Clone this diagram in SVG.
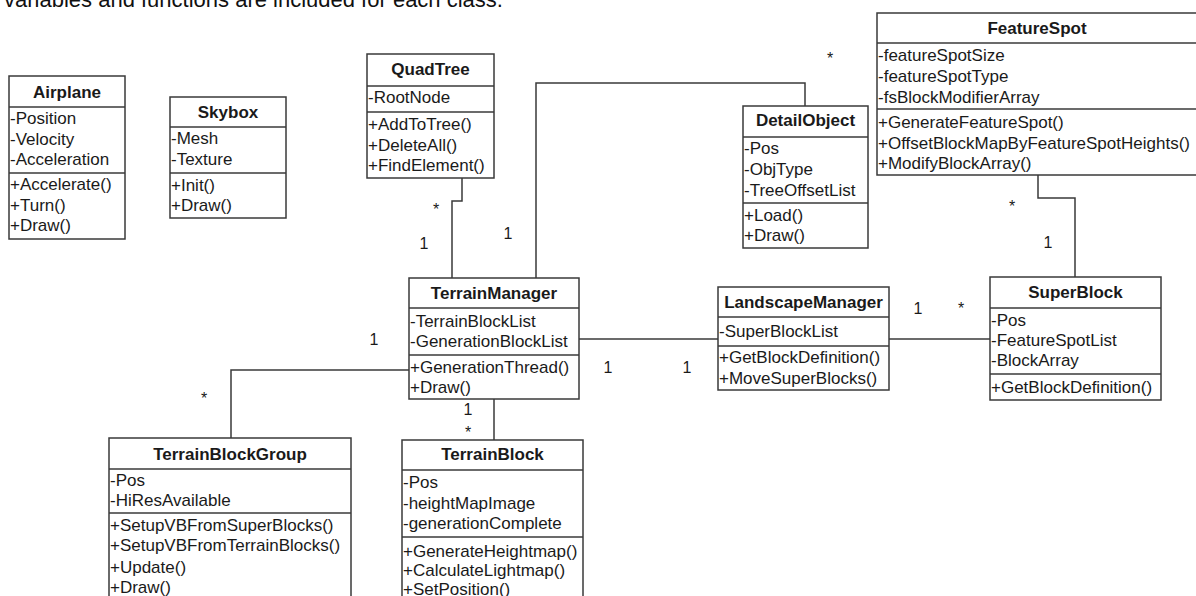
<svg xmlns="http://www.w3.org/2000/svg" width="1196" height="596" viewBox="0 0 1196 596">
<style>
.box{fill:#fff;stroke:#3a3a3a;stroke-width:1.5}
.div{stroke:#3a3a3a;stroke-width:1.5}
.t{font-family:"Liberation Sans",Arial,sans-serif;font-size:17px;fill:#1a1a1a}
.h{font-family:"Liberation Sans",Arial,sans-serif;font-size:17px;font-weight:bold;fill:#1a1a1a;text-anchor:middle}
.m{font-family:"Liberation Sans",Arial,sans-serif;font-size:16px;fill:#1a1a1a;text-anchor:middle}
.c{fill:none;stroke:#3a3a3a;stroke-width:1.5}
</style>
<rect width="1196" height="596" fill="#fff"/>
<text x="4" y="7" font-family="Liberation Sans, Arial, sans-serif" font-size="22" fill="#111">variables and functions are included for each class.</text>

<g id="connectors">
<path class="c" d="M462,178 V201 H452 V278"/>
<path class="c" d="M805,106 V83 H536 V278"/>
<path class="c" d="M1038,175 V198 H1075 V277"/>
<path class="c" d="M579,339 H718"/>
<path class="c" d="M889,339 H990"/>
<path class="c" d="M409,370 H231 V438"/>
<path class="c" d="M494,399 V440"/>
<text class="m" x="436" y="215">*</text>
<text class="m" x="424" y="249">1</text>
<text class="m" x="830" y="64">*</text>
<text class="m" x="508" y="239">1</text>
<text class="m" x="1012" y="212">*</text>
<text class="m" x="1048" y="248">1</text>
<text class="m" x="608" y="373">1</text>
<text class="m" x="687" y="373">1</text>
<text class="m" x="918" y="314">1</text>
<text class="m" x="961" y="314">*</text>
<text class="m" x="374" y="345">1</text>
<text class="m" x="204" y="404">*</text>
<text class="m" x="468" y="415">1</text>
<text class="m" x="468" y="438">*</text>
</g>

<g id="Airplane">
<rect class="box" x="9" y="76" width="116" height="163"/>
<line class="div" x1="9" y1="107" x2="125" y2="107"/>
<line class="div" x1="9" y1="173" x2="125" y2="173"/>
<text class="h" x="67" y="97.5">Airplane</text>
<text class="t" x="10" y="124">-Position</text>
<text class="t" x="10" y="145">-Velocity</text>
<text class="t" x="10" y="165">-Acceleration</text>
<text class="t" x="10" y="190">+Accelerate()</text>
<text class="t" x="10" y="211">+Turn()</text>
<text class="t" x="10" y="231">+Draw()</text>
</g>

<g id="Skybox">
<rect class="box" x="170" y="97" width="116" height="121"/>
<line class="div" x1="170" y1="127" x2="286" y2="127"/>
<line class="div" x1="170" y1="173" x2="286" y2="173"/>
<text class="h" x="228" y="118">Skybox</text>
<text class="t" x="171" y="144">-Mesh</text>
<text class="t" x="171" y="165">-Texture</text>
<text class="t" x="171" y="191">+Init()</text>
<text class="t" x="171" y="211">+Draw()</text>
</g>

<g id="QuadTree">
<rect class="box" x="367" y="54" width="127" height="124"/>
<line class="div" x1="367" y1="86" x2="494" y2="86"/>
<line class="div" x1="367" y1="112" x2="494" y2="112"/>
<text class="h" x="430.5" y="75">QuadTree</text>
<text class="t" x="368" y="103">-RootNode</text>
<text class="t" x="368" y="130">+AddToTree()</text>
<text class="t" x="368" y="150.5">+DeleteAll()</text>
<text class="t" x="368" y="171">+FindElement()</text>
</g>

<g id="DetailObject">
<rect class="box" x="743" y="106" width="125" height="142"/>
<line class="div" x1="743" y1="137" x2="868" y2="137"/>
<line class="div" x1="743" y1="203" x2="868" y2="203"/>
<text class="h" x="805.5" y="126">DetailObject</text>
<text class="t" x="744" y="154">-Pos</text>
<text class="t" x="744" y="175">-ObjType</text>
<text class="t" x="744" y="196">-TreeOffsetList</text>
<text class="t" x="744" y="221">+Load()</text>
<text class="t" x="744" y="241">+Draw()</text>
</g>

<g id="FeatureSpot">
<rect class="box" x="877" y="13" width="320" height="162"/>
<line class="div" x1="877" y1="43" x2="1197" y2="43"/>
<line class="div" x1="877" y1="109" x2="1197" y2="109"/>
<text class="h" x="1037" y="34">FeatureSpot</text>
<text class="t" x="878" y="61">-featureSpotSize</text>
<text class="t" x="878" y="82">-featureSpotType</text>
<text class="t" x="878" y="103">-fsBlockModifierArray</text>
<text class="t" x="878" y="128">+GenerateFeatureSpot()</text>
<text class="t" x="878" y="149">+OffsetBlockMapByFeatureSpotHeights()</text>
<text class="t" x="878" y="169">+ModifyBlockArray()</text>
</g>

<g id="TerrainManager">
<rect class="box" x="409" y="278" width="170" height="121"/>
<line class="div" x1="409" y1="308" x2="579" y2="308"/>
<line class="div" x1="409" y1="355" x2="579" y2="355"/>
<text class="h" x="494" y="299">TerrainManager</text>
<text class="t" x="410" y="327">-TerrainBlockList</text>
<text class="t" x="410" y="347">-GenerationBlockList</text>
<text class="t" x="410" y="373">+GenerationThread()</text>
<text class="t" x="410" y="393">+Draw()</text>
</g>

<g id="LandscapeManager">
<rect class="box" x="718" y="287" width="171" height="103"/>
<line class="div" x1="718" y1="317" x2="889" y2="317"/>
<line class="div" x1="718" y1="346" x2="889" y2="346"/>
<text class="h" x="803.5" y="308">LandscapeManager</text>
<text class="t" x="719" y="337">-SuperBlockList</text>
<text class="t" x="719" y="363">+GetBlockDefinition()</text>
<text class="t" x="719" y="384">+MoveSuperBlocks()</text>
</g>

<g id="SuperBlock">
<rect class="box" x="990" y="277" width="171" height="123"/>
<line class="div" x1="990" y1="308" x2="1161" y2="308"/>
<line class="div" x1="990" y1="374" x2="1161" y2="374"/>
<text class="h" x="1075.5" y="298">SuperBlock</text>
<text class="t" x="991" y="326">-Pos</text>
<text class="t" x="991" y="346">-FeatureSpotList</text>
<text class="t" x="991" y="366">-BlockArray</text>
<text class="t" x="991" y="393">+GetBlockDefinition()</text>
</g>

<g id="TerrainBlockGroup">
<rect class="box" x="109" y="438" width="242" height="180"/>
<line class="div" x1="109" y1="469" x2="351" y2="469"/>
<line class="div" x1="109" y1="513" x2="351" y2="513"/>
<text class="h" x="230" y="459.5">TerrainBlockGroup</text>
<text class="t" x="110" y="486">-Pos</text>
<text class="t" x="110" y="505.5">-HiResAvailable</text>
<text class="t" x="110" y="531">+SetupVBFromSuperBlocks()</text>
<text class="t" x="110" y="551">+SetupVBFromTerrainBlocks()</text>
<text class="t" x="110" y="572.5">+Update()</text>
<text class="t" x="110" y="592.5">+Draw()</text>
</g>

<g id="TerrainBlock">
<rect class="box" x="402" y="440" width="181" height="180"/>
<line class="div" x1="402" y1="470" x2="583" y2="470"/>
<line class="div" x1="402" y1="537" x2="583" y2="537"/>
<text class="h" x="492.5" y="460">TerrainBlock</text>
<text class="t" x="403" y="488">-Pos</text>
<text class="t" x="403" y="509">-heightMapImage</text>
<text class="t" x="403" y="529">-generationComplete</text>
<text class="t" x="403" y="557">+GenerateHeightmap()</text>
<text class="t" x="403" y="576">+CalculateLightmap()</text>
<text class="t" x="403" y="595">+SetPosition()</text>
</g>
</svg>
